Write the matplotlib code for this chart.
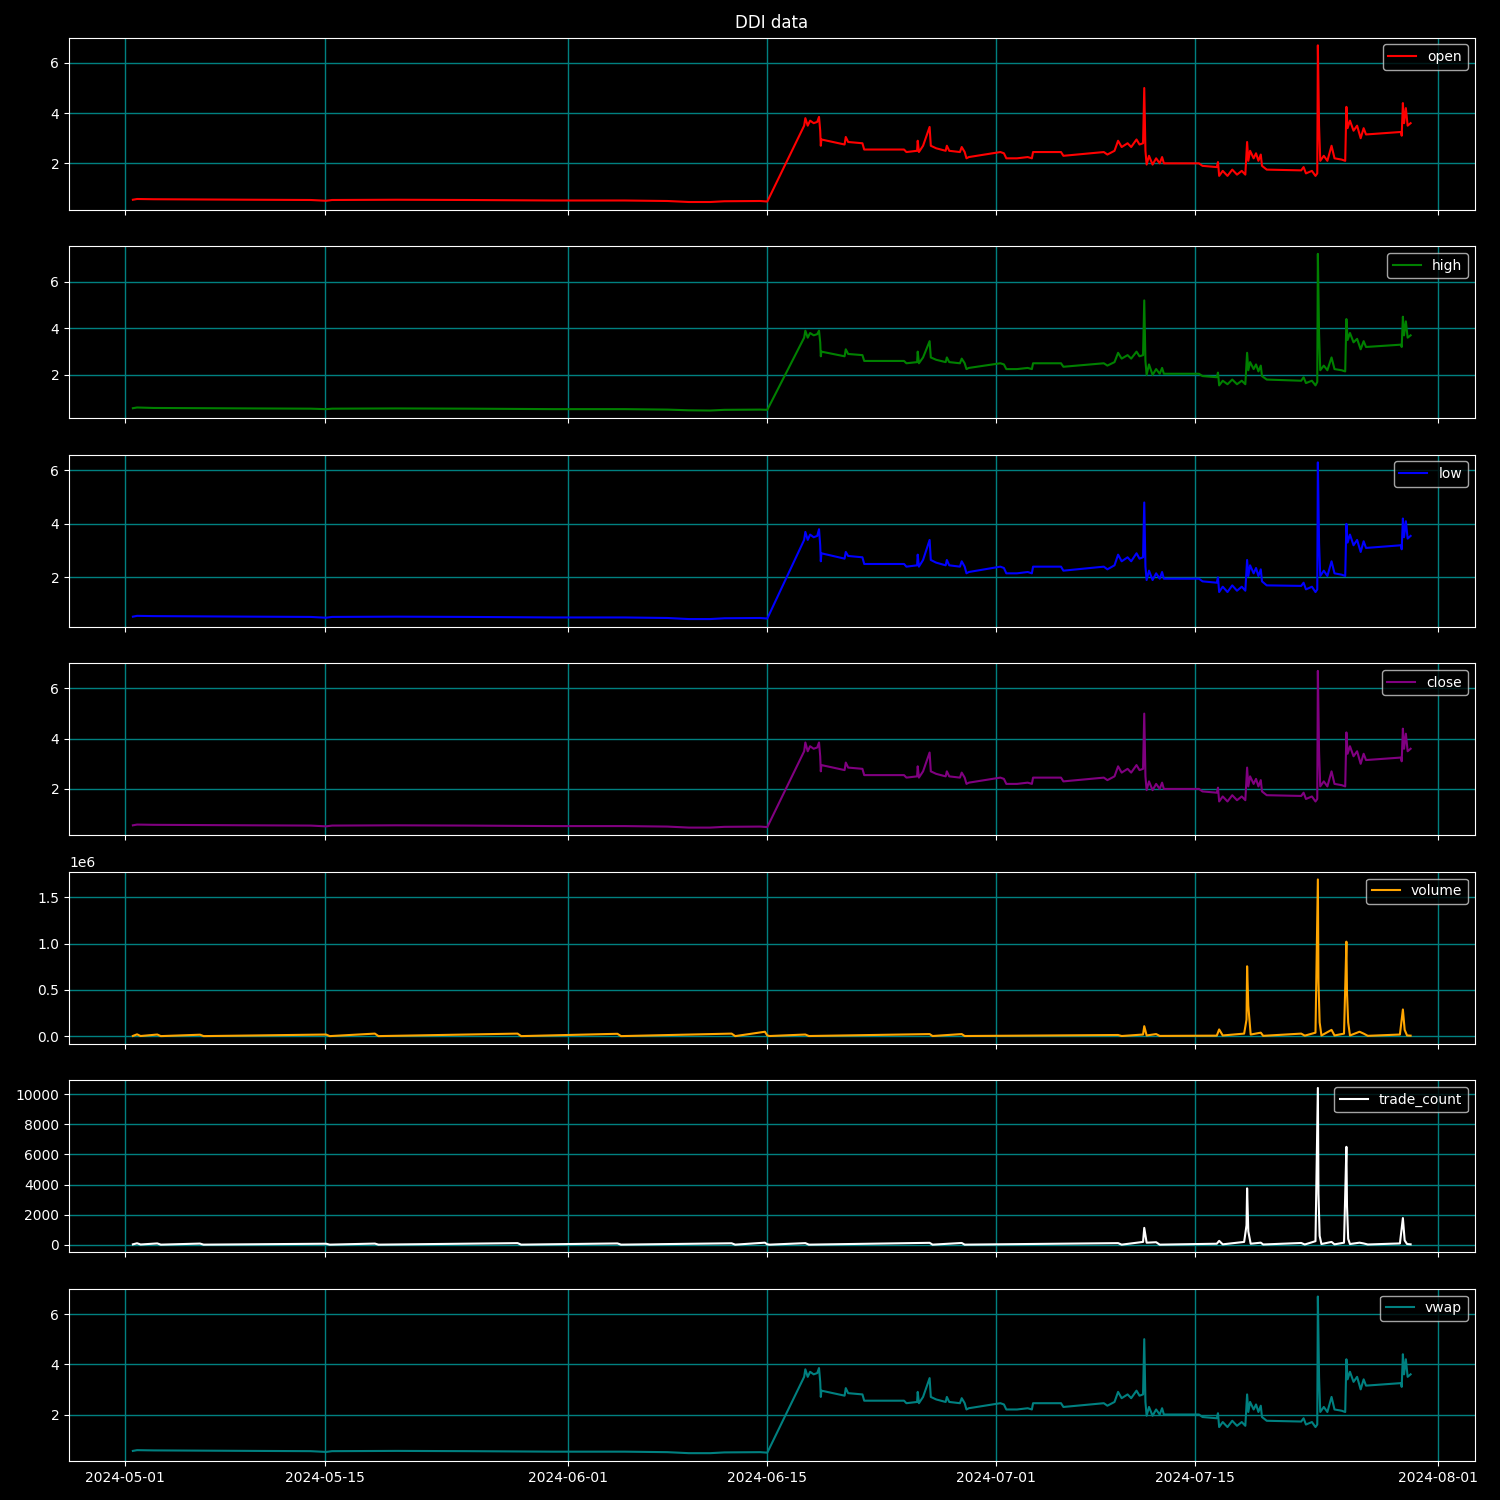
import matplotlib
matplotlib.use('Agg')
import matplotlib.pyplot as plt
import pandas as pd

# price bars (approximate hourly points)
price_times = [
    "2024-05-01 13:00", "2024-05-01 20:00", "2024-05-03 00:00", "2024-05-06 00:00",
    "2024-05-10 00:00", "2024-05-14 00:00", "2024-05-15 02:00", "2024-05-15 12:00",
    "2024-05-20 00:00", "2024-05-25 00:00", "2024-05-31 00:00", "2024-06-05 00:00",
    "2024-06-08 00:00", "2024-06-09 12:00", "2024-06-11 00:00", "2024-06-12 00:00",
    "2024-06-14 12:00", "2024-06-15 00:00",
    "2024-06-17 14:00", "2024-06-17 16:00", "2024-06-17 20:00", "2024-06-18 00:00",
    "2024-06-18 06:00", "2024-06-18 12:00", "2024-06-18 15:00", "2024-06-18 17:00",
    "2024-06-18 18:00", "2024-06-18 19:00", "2024-06-20 10:00", "2024-06-20 12:00",
    "2024-06-20 16:00", "2024-06-21 16:00", "2024-06-21 19:00", "2024-06-24 14:00",
    "2024-06-24 18:00", "2024-06-25 12:00", "2024-06-25 13:00", "2024-06-25 15:00",
    "2024-06-25 22:00", "2024-06-26 09:00", "2024-06-26 11:00", "2024-06-26 20:00",
    "2024-06-27 12:00", "2024-06-27 14:00", "2024-06-27 18:00", "2024-06-28 12:00",
    "2024-06-28 15:00", "2024-06-28 20:00", "2024-06-28 23:00", "2024-06-29 03:00",
    "2024-07-01 08:00", "2024-07-01 14:00", "2024-07-01 18:00", "2024-07-02 12:00",
    "2024-07-03 06:00", "2024-07-03 13:00", "2024-07-03 15:00", "2024-07-05 14:00",
    "2024-07-05 18:00", "2024-07-08 14:00", "2024-07-08 20:00", "2024-07-09 08:00",
    "2024-07-09 14:00", "2024-07-09 20:00", "2024-07-10 06:00", "2024-07-10 12:00",
    "2024-07-10 21:00", "2024-07-11 02:00", "2024-07-11 08:00", "2024-07-11 10:00",
    "2024-07-11 12:00", "2024-07-11 14:00", "2024-07-11 18:00", "2024-07-12 00:00",
    "2024-07-12 06:00", "2024-07-12 12:00", "2024-07-12 16:00", "2024-07-12 19:00",
    "2024-07-15 06:00", "2024-07-15 12:00", "2024-07-16 12:00", "2024-07-16 14:00",
    "2024-07-16 16:00", "2024-07-16 22:00", "2024-07-17 06:00", "2024-07-17 14:00",
    "2024-07-17 22:00", "2024-07-18 06:00", "2024-07-18 12:00", "2024-07-18 15:00",
    "2024-07-18 17:00", "2024-07-18 20:00", "2024-07-19 02:00", "2024-07-19 06:00",
    "2024-07-19 10:00", "2024-07-19 14:00", "2024-07-19 16:00", "2024-07-20 00:00",
    "2024-07-22 10:00", "2024-07-22 14:00", "2024-07-22 18:00", "2024-07-23 04:00",
    "2024-07-23 10:00", "2024-07-23 13:00", "2024-07-23 14:00", "2024-07-23 16:00",
    "2024-07-23 18:00", "2024-07-24 00:00", "2024-07-24 06:00", "2024-07-24 13:00",
    "2024-07-24 18:00", "2024-07-25 06:00", "2024-07-25 12:00", "2024-07-25 14:00",
    "2024-07-25 16:00", "2024-07-25 20:00", "2024-07-26 02:00", "2024-07-26 08:00",
    "2024-07-26 14:00", "2024-07-26 19:00", "2024-07-26 23:00", "2024-07-29 10:00",
    "2024-07-29 11:00", "2024-07-29 13:00", "2024-07-29 15:00", "2024-07-29 18:00",
    "2024-07-29 21:00", "2024-07-30 02:00",
]

open_ = [
    0.55, 0.58, 0.57, 0.56, 0.55, 0.54, 0.51, 0.54, 0.55, 0.54, 0.52, 0.52,
    0.50, 0.46, 0.46, 0.49, 0.50, 0.48,
    3.50, 3.80, 3.50, 3.70, 3.60, 3.65, 3.85, 3.30, 2.70, 2.95, 2.75, 3.05,
    2.85, 2.80, 2.55, 2.55, 2.45, 2.50, 2.90, 2.45, 2.70, 3.45, 2.70, 2.60,
    2.50, 2.70, 2.50, 2.45, 2.65, 2.45, 2.20, 2.25, 2.45, 2.40, 2.20, 2.20,
    2.25, 2.20, 2.45, 2.45, 2.30, 2.45, 2.35, 2.50, 2.90, 2.65, 2.80, 2.65,
    2.95, 2.75, 2.80, 5.00, 2.50, 1.95, 2.30, 1.95, 2.20, 2.00, 2.25, 2.00,
    2.00, 1.90, 1.85, 2.05, 1.50, 1.70, 1.50, 1.75, 1.55, 1.70, 1.55, 2.85,
    2.10, 2.50, 2.20, 2.40, 2.10, 2.35, 1.90, 1.75, 1.72, 1.85, 1.60, 1.70,
    1.50, 1.60, 6.70, 3.50, 2.10, 2.30, 2.10, 2.70, 2.20, 2.15, 2.10, 4.25,
    3.40, 3.70, 3.30, 3.50, 3.00, 3.40, 3.15, 3.25, 3.10, 4.40, 3.60, 4.20,
    3.50, 3.60,
]

high = [
    0.57, 0.60, 0.58, 0.57, 0.56, 0.55, 0.53, 0.55, 0.56, 0.55, 0.53, 0.53,
    0.51, 0.48, 0.47, 0.50, 0.51, 0.50,
    3.60, 3.90, 3.60, 3.80, 3.70, 3.75, 3.90, 3.40, 2.80, 3.00, 2.80, 3.10,
    2.90, 2.85, 2.60, 2.60, 2.50, 2.55, 3.00, 2.50, 2.75, 3.45, 2.75, 2.65,
    2.55, 2.75, 2.55, 2.50, 2.70, 2.50, 2.25, 2.30, 2.50, 2.45, 2.25, 2.25,
    2.30, 2.25, 2.50, 2.50, 2.35, 2.50, 2.40, 2.55, 2.95, 2.70, 2.85, 2.70,
    3.00, 2.80, 2.85, 5.20, 2.60, 2.00, 2.45, 2.00, 2.25, 2.05, 2.30, 2.05,
    2.05, 1.95, 1.90, 2.10, 1.55, 1.75, 1.60, 1.80, 1.60, 1.75, 1.60, 2.95,
    2.20, 2.55, 2.25, 2.45, 2.15, 2.40, 1.95, 1.80, 1.75, 1.90, 1.65, 1.75,
    1.55, 1.70, 7.20, 3.80, 2.20, 2.40, 2.20, 2.75, 2.25, 2.20, 2.15, 4.40,
    3.50, 3.80, 3.40, 3.55, 3.10, 3.45, 3.20, 3.30, 3.20, 4.50, 3.70, 4.30,
    3.60, 3.70,
]

low = [
    0.53, 0.56, 0.55, 0.54, 0.53, 0.52, 0.49, 0.52, 0.53, 0.52, 0.50, 0.50,
    0.48, 0.44, 0.44, 0.47, 0.48, 0.46,
    3.40, 3.70, 3.40, 3.60, 3.50, 3.55, 3.80, 3.20, 2.60, 2.90, 2.70, 2.95,
    2.80, 2.75, 2.50, 2.50, 2.40, 2.45, 2.85, 2.40, 2.65, 3.40, 2.65, 2.55,
    2.45, 2.65, 2.45, 2.40, 2.60, 2.40, 2.15, 2.20, 2.40, 2.35, 2.15, 2.15,
    2.20, 2.15, 2.40, 2.40, 2.25, 2.40, 2.30, 2.45, 2.85, 2.60, 2.75, 2.60,
    2.90, 2.70, 2.75, 4.80, 2.40, 1.90, 2.25, 1.90, 2.15, 1.95, 2.20, 1.95,
    1.95, 1.85, 1.80, 2.00, 1.45, 1.65, 1.45, 1.70, 1.50, 1.65, 1.50, 2.65,
    2.05, 2.45, 2.15, 2.35, 2.05, 2.30, 1.85, 1.70, 1.68, 1.80, 1.55, 1.65,
    1.45, 1.55, 6.30, 3.30, 2.05, 2.25, 2.05, 2.60, 2.15, 2.10, 2.05, 4.00,
    3.30, 3.60, 3.20, 3.40, 2.95, 3.35, 3.10, 3.20, 3.05, 4.20, 3.50, 4.10,
    3.45, 3.55,
]

close = [
    0.55, 0.58, 0.57, 0.56, 0.55, 0.54, 0.51, 0.54, 0.55, 0.54, 0.52, 0.52,
    0.50, 0.46, 0.46, 0.49, 0.50, 0.48,
    3.50, 3.85, 3.50, 3.70, 3.60, 3.65, 3.85, 3.30, 2.70, 2.95, 2.75, 3.05,
    2.85, 2.80, 2.55, 2.55, 2.45, 2.50, 2.90, 2.45, 2.70, 3.45, 2.70, 2.60,
    2.50, 2.70, 2.50, 2.45, 2.65, 2.45, 2.20, 2.25, 2.45, 2.40, 2.20, 2.20,
    2.25, 2.20, 2.45, 2.45, 2.30, 2.45, 2.35, 2.50, 2.90, 2.65, 2.80, 2.65,
    2.95, 2.75, 2.80, 5.00, 2.50, 1.95, 2.30, 1.95, 2.20, 2.00, 2.25, 2.00,
    2.00, 1.90, 1.85, 2.05, 1.50, 1.70, 1.50, 1.75, 1.55, 1.70, 1.55, 2.85,
    2.10, 2.50, 2.20, 2.40, 2.10, 2.35, 1.90, 1.75, 1.72, 1.85, 1.60, 1.70,
    1.50, 1.60, 6.70, 3.50, 2.10, 2.30, 2.10, 2.70, 2.20, 2.15, 2.10, 4.25,
    3.40, 3.70, 3.30, 3.50, 3.00, 3.40, 3.15, 3.25, 3.10, 4.40, 3.60, 4.20,
    3.50, 3.60,
]

vwap = [
    0.55, 0.58, 0.57, 0.56, 0.55, 0.54, 0.51, 0.54, 0.55, 0.54, 0.52, 0.52,
    0.50, 0.46, 0.46, 0.49, 0.50, 0.48,
    3.50, 3.80, 3.50, 3.70, 3.60, 3.65, 3.85, 3.30, 2.70, 2.95, 2.75, 3.05,
    2.85, 2.80, 2.55, 2.55, 2.45, 2.50, 2.90, 2.45, 2.70, 3.45, 2.70, 2.60,
    2.50, 2.70, 2.50, 2.45, 2.65, 2.45, 2.20, 2.25, 2.45, 2.40, 2.20, 2.20,
    2.25, 2.20, 2.45, 2.45, 2.30, 2.45, 2.35, 2.50, 2.90, 2.65, 2.80, 2.65,
    2.95, 2.75, 2.80, 5.00, 2.50, 1.95, 2.30, 1.95, 2.20, 2.00, 2.25, 2.00,
    2.00, 1.90, 1.85, 2.05, 1.50, 1.70, 1.50, 1.75, 1.55, 1.70, 1.55, 2.80,
    2.10, 2.50, 2.20, 2.40, 2.10, 2.35, 1.90, 1.75, 1.72, 1.85, 1.60, 1.70,
    1.50, 1.60, 6.70, 3.50, 2.10, 2.30, 2.10, 2.70, 2.20, 2.15, 2.10, 4.20,
    3.40, 3.70, 3.30, 3.50, 3.00, 3.40, 3.15, 3.25, 3.10, 4.40, 3.60, 4.20,
    3.50, 3.60,
]

# volume / trade count (mostly flat with spikes)
act_times = [
    "2024-05-01 13:00", "2024-05-01 20:00", "2024-05-02 02:00", "2024-05-03 06:00",
    "2024-05-03 12:00", "2024-05-06 06:00", "2024-05-06 12:00", "2024-05-15 02:00",
    "2024-05-15 08:00", "2024-05-18 12:00", "2024-05-18 18:00", "2024-05-28 12:00",
    "2024-05-28 18:00", "2024-06-04 12:00", "2024-06-04 18:00", "2024-06-12 12:00",
    "2024-06-12 18:00", "2024-06-14 20:00", "2024-06-15 00:00", "2024-06-15 04:00",
    "2024-06-17 16:00", "2024-06-17 22:00", "2024-06-26 09:00", "2024-06-26 14:00",
    "2024-06-28 15:00", "2024-06-28 20:00", "2024-07-09 14:00", "2024-07-09 20:00",
    "2024-07-11 08:00", "2024-07-11 10:00", "2024-07-11 14:00", "2024-07-12 06:00",
    "2024-07-12 12:00", "2024-07-16 12:00", "2024-07-16 16:00", "2024-07-16 22:00",
    "2024-07-18 10:00", "2024-07-18 14:00", "2024-07-18 15:00", "2024-07-18 17:00",
    "2024-07-18 21:00", "2024-07-19 14:00", "2024-07-19 18:00", "2024-07-22 10:00",
    "2024-07-22 16:00", "2024-07-23 10:00", "2024-07-23 14:00", "2024-07-23 15:00",
    "2024-07-23 17:00", "2024-07-23 20:00", "2024-07-24 13:00", "2024-07-24 18:00",
    "2024-07-25 10:00", "2024-07-25 14:00", "2024-07-25 15:00", "2024-07-25 17:00",
    "2024-07-25 20:00", "2024-07-26 12:00", "2024-07-26 19:00", "2024-07-27 02:00",
    "2024-07-29 08:00", "2024-07-29 13:00", "2024-07-29 16:00", "2024-07-29 20:00",
    "2024-07-30 02:00",
]

volume = [
    5000, 22000, 4000, 20000, 3000, 18000, 3000, 20000,
    3000, 30000, 3000, 30000, 3000, 28000, 3000, 30000,
    3000, 50000, 10000, 4000, 20000, 4000, 25000, 4000,
    25000, 4000, 15000, 4000, 20000, 110000, 10000, 25000,
    5000, 8000, 75000, 10000, 30000, 180000, 755000, 330000,
    20000, 40000, 6000, 30000, 8000, 40000, 1690000, 590000,
    150000, 10000, 70000, 10000, 30000, 1020000, 470000, 150000,
    10000, 50000, 30000, 6000, 20000, 290000, 70000, 10000,
    8000,
]

trade_count = [
    40, 110, 30, 100, 20, 90, 20, 80,
    20, 90, 20, 120, 20, 100, 20, 110,
    20, 150, 40, 20, 120, 20, 140, 20,
    130, 20, 120, 20, 200, 1130, 150, 180,
    20, 80, 270, 40, 200, 1300, 3750, 900,
    80, 150, 30, 130, 30, 250, 10400, 3400,
    600, 60, 200, 40, 150, 6500, 2600, 400,
    60, 150, 100, 30, 100, 1780, 300, 60,
    40,
]

price = pd.DataFrame({'open': open_, 'high': high, 'low': low, 'close': close, 'vwap': vwap},
                     index=pd.to_datetime(price_times))
activity = pd.DataFrame({'volume': volume, 'trade_count': trade_count},
                        index=pd.to_datetime(act_times))

plt.style.use('dark_background')

panels = [
    (price, 'open', 'red'),
    (price, 'high', 'green'),
    (price, 'low', 'blue'),
    (price, 'close', 'purple'),
    (activity, 'volume', 'orange'),
    (activity, 'trade_count', 'white'),
    (price, 'vwap', 'teal'),
]

fig, axes = plt.subplots(len(panels), 1, figsize=(15, 15), dpi=100, sharex=True)
for ax, (frame, col, color) in zip(axes, panels):
    ax.plot(frame.index, frame[col], color=color, label=col)
    ax.grid(True, color='teal', linewidth=1)
    ax.legend(loc='upper right')

fig.suptitle('DDI data', x=0.5145, y=0.985, va='center')
fig.subplots_adjust(left=0.046, right=0.983, top=0.975, bottom=0.026, hspace=0.21)
fig.savefig('out.png')
